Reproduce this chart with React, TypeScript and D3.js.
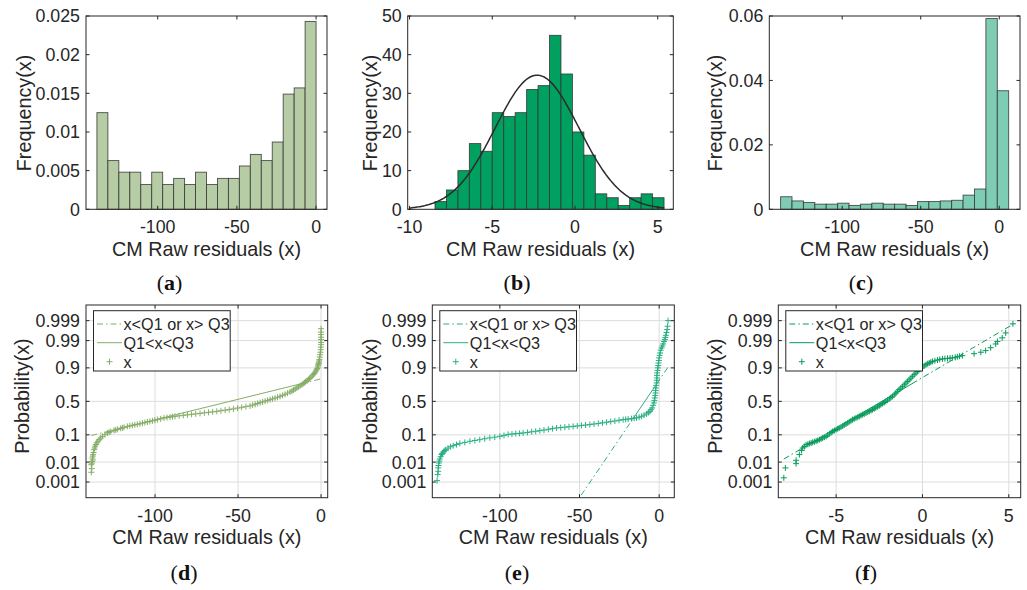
import React from "react";
import * as d3 from "d3";

// ---------------- data ----------------
// (a) histogram, pdf normalisation
const histA_values = [0.0125, 0.0063, 0.0048, 0.0048, 0.0032, 0.0048, 0.0032, 0.004, 0.0032, 0.0048, 0.0032, 0.004, 0.004, 0.0056, 0.0071, 0.0063, 0.0087, 0.0149, 0.0157, 0.0243];
const histA_binStart = -138.4;
const histA_binWidth = 6.92;
const histA_xDomain = [-145.3, 6.9];
const histA_yMax = 0.025;
const histA_xTicks = [-100, -50, 0];
const histA_yTicks = [0, 0.005, 0.01, 0.015, 0.02, 0.025];

// (b) histogram, counts + normal fit
const histB_values = [2, 5, 10, 17, 15, 25, 24, 25, 31, 32, 45, 35, 20, 14, 4, 3, 1, 3, 4, 3];
const histB_binStart = -8.46;
const histB_binWidth = 0.692;
const histB_xDomain = [-10.11, 5.94];
const histB_yMax = 50;
const histB_xTicks = [-10, -5, 0, 5];
const histB_yTicks = [0, 10, 20, 30, 40, 50];
const fitB_mu = -2.29;
const fitB_sigma = 2.53;
const fitB_range = [-10, 5.4];

// (c) histogram, pdf normalisation
const histC_values = [0.0039, 0.0026, 0.0021, 0.0016, 0.0016, 0.0019, 0.0012, 0.0016, 0.0019, 0.0016, 0.0016, 0.0012, 0.0024, 0.0024, 0.0026, 0.0028, 0.0044, 0.0063, 0.0592, 0.0368];
const histC_binStart = -139.2;
const histC_binWidth = 7.26;
const histC_xDomain = [-146.4, 13.2];
const histC_yMax = 0.06;
const histC_xTicks = [-100, -50, 0];
const histC_yTicks = [0, 0.02, 0.04, 0.06];

// probability plots: [residual, probability]
const probD_points: [number, number][] = [
  [-138.4, 0.0033], [-138.4, 0.0076], [-138.1, 0.005], [-138.1, 0.009], [-137.8, 0.0107], [-137.8, 0.015], [-137.5, 0.0125], [-137.5, 0.018],
  [-137.3, 0.0206], [-137.0, 0.025], [-136.7, 0.032], [-136.4, 0.037], [-136.1, 0.043], [-135.6, 0.049], [-135.1, 0.056], [-134.4, 0.063],
  [-133.7, 0.071], [-132.7, 0.08], [-131.7, 0.09], [-130.2, 0.101], [-128.7, 0.113], [-127.7, 0.118], [-126.7, 0.123], [-124.7, 0.133],
  [-123.7, 0.137], [-122.7, 0.142], [-120.7, 0.151], [-119.7, 0.155], [-118.7, 0.16], [-116.7, 0.169], [-115.2, 0.174], [-113.7, 0.179],
  [-112.2, 0.184], [-110.7, 0.189], [-109.1, 0.195], [-107.6, 0.202], [-106.1, 0.208], [-104.6, 0.215], [-103.1, 0.221], [-101.6, 0.228],
  [-100.1, 0.235], [-98.6, 0.242], [-96.6, 0.251], [-94.6, 0.261], [-92.8, 0.267], [-91.0, 0.272], [-89.5, 0.278], [-88.0, 0.283],
  [-85.5, 0.29], [-83.0, 0.296], [-80.5, 0.303], [-78.0, 0.31], [-75.5, 0.316], [-72.9, 0.323], [-70.3, 0.33], [-67.8, 0.337],
  [-65.3, 0.344], [-62.8, 0.351], [-60.3, 0.36], [-57.8, 0.368], [-55.3, 0.377], [-52.8, 0.386], [-50.3, 0.398], [-47.8, 0.41],
  [-45.3, 0.42], [-42.8, 0.43], [-41.2, 0.443], [-39.7, 0.455], [-38.2, 0.468], [-36.7, 0.48], [-35.2, 0.49], [-33.7, 0.503],
  [-32.2, 0.515], [-30.7, 0.526], [-29.2, 0.538], [-27.7, 0.55], [-26.2, 0.563], [-24.7, 0.576], [-23.2, 0.591], [-21.7, 0.607],
  [-20.2, 0.623], [-18.7, 0.64], [-17.6, 0.654], [-16.6, 0.668], [-15.6, 0.682], [-14.6, 0.696], [-13.6, 0.71], [-12.6, 0.725],
  [-11.6, 0.738], [-10.7, 0.752], [-9.9, 0.763], [-9.2, 0.775], [-8.4, 0.786], [-7.7, 0.797], [-6.9, 0.81], [-6.1, 0.823],
  [-5.3, 0.835], [-4.6, 0.847], [-4.1, 0.858], [-3.6, 0.868], [-3.1, 0.878], [-2.6, 0.887], [-2.3, 0.896], [-2.0, 0.905],
  [-1.8, 0.913], [-1.6, 0.92], [-1.45, 0.927], [-1.3, 0.933], [-1.15, 0.939], [-1.0, 0.945], [-0.8, 0.955], [-0.6, 0.963],
  [-0.4, 0.97], [-0.2, 0.976], [-0.1, 0.981], [0, 0.985], [0, 0.988], [0, 0.991], [0, 0.993], [0, 0.9947], [0, 0.996], [0, 0.9973],
];
const probE_points: [number, number][] = [
  [-139.4, 0.0012], [-139.0, 0.0025], [-138.7, 0.0037], [-138.7, 0.0054], [-138.5, 0.007], [-138.3, 0.0091], [-138.0, 0.011], [-137.7, 0.0136],
  [-137.2, 0.017], [-136.6, 0.0207], [-136.2, 0.0225], [-135.9, 0.024], [-135.2, 0.0274], [-134.5, 0.03], [-133.9, 0.032], [-132.5, 0.0367],
  [-131.0, 0.041], [-129.3, 0.0446], [-127.2, 0.049], [-125.1, 0.0537], [-122.0, 0.058], [-118.8, 0.063], [-115.7, 0.067], [-112.6, 0.071],
  [-109.5, 0.076], [-106.3, 0.081], [-103.2, 0.085], [-100.0, 0.09], [-97.4, 0.096], [-94.8, 0.103], [-92.4, 0.105], [-90.0, 0.108],
  [-87.7, 0.11], [-85.4, 0.113], [-82.7, 0.117], [-80.0, 0.122], [-77.5, 0.126], [-74.9, 0.131], [-72.3, 0.136], [-69.6, 0.142],
  [-67.0, 0.148], [-64.4, 0.154], [-61.8, 0.158], [-59.2, 0.161], [-56.6, 0.165], [-54.0, 0.169], [-51.4, 0.173], [-48.8, 0.178],
  [-46.2, 0.182], [-43.5, 0.187], [-40.9, 0.193], [-38.2, 0.199], [-35.6, 0.205], [-33.0, 0.212], [-30.4, 0.219], [-27.8, 0.226],
  [-25.2, 0.234], [-22.6, 0.242], [-21.0, 0.245], [-19.5, 0.248], [-17.3, 0.254], [-15.7, 0.259], [-14.2, 0.264], [-12.6, 0.272],
  [-11.0, 0.283], [-9.5, 0.298], [-7.9, 0.315], [-6.8, 0.333], [-5.8, 0.351], [-5.1, 0.375], [-4.4, 0.4], [-3.8, 0.44],
  [-3.3, 0.476], [-3.0, 0.514], [-2.7, 0.552], [-2.5, 0.59], [-2.3, 0.626], [-2.2, 0.66], [-2.1, 0.696], [-1.85, 0.73],
  [-1.6, 0.76], [-1.5, 0.79], [-1.4, 0.815], [-1.35, 0.84], [-1.3, 0.862], [-1.05, 0.882], [-0.8, 0.9], [-0.6, 0.915],
  [-0.4, 0.929], [-0.2, 0.941], [0, 0.952], [0.3, 0.961], [0.6, 0.968], [1.0, 0.975], [1.5, 0.9796], [2.0, 0.983],
  [2.5, 0.986], [3.0, 0.989], [3.6, 0.991], [3.9, 0.9928], [4.2, 0.9943], [4.6, 0.9958], [5.0, 0.997], [5.3, 0.998], [5.6, 0.999],
];
const probF_points: [number, number][] = [
  [-8.03, 0.0017], [-7.94, 0.0054], [-7.32, 0.0085], [-7.32, 0.012], [-7.13, 0.0207], [-7.0, 0.03], [-6.94, 0.037], [-6.84, 0.042],
  [-6.74, 0.048], [-6.64, 0.05], [-6.55, 0.053], [-6.45, 0.055], [-6.36, 0.058], [-6.26, 0.061], [-6.16, 0.064], [-6.07, 0.067],
  [-5.97, 0.071], [-5.87, 0.075], [-5.78, 0.08], [-5.68, 0.085], [-5.58, 0.09], [-5.49, 0.098], [-5.39, 0.107], [-5.29, 0.116],
  [-5.2, 0.125], [-5.1, 0.132], [-5.0, 0.14], [-4.91, 0.147], [-4.82, 0.154], [-4.72, 0.163], [-4.62, 0.173], [-4.53, 0.183],
  [-4.43, 0.193], [-4.33, 0.205], [-4.24, 0.217], [-4.14, 0.229], [-4.05, 0.242], [-3.95, 0.252], [-3.85, 0.262], [-3.75, 0.272],
  [-3.66, 0.283], [-3.56, 0.294], [-3.46, 0.305], [-3.37, 0.316], [-3.27, 0.328], [-3.17, 0.34], [-3.08, 0.351], [-2.98, 0.363],
  [-2.89, 0.375], [-2.79, 0.39], [-2.7, 0.404], [-2.6, 0.419], [-2.5, 0.434], [-2.41, 0.45], [-2.31, 0.467], [-2.21, 0.483],
  [-2.12, 0.5], [-2.02, 0.519], [-1.92, 0.538], [-1.83, 0.557], [-1.73, 0.576], [-1.63, 0.6], [-1.54, 0.625], [-1.44, 0.65],
  [-1.35, 0.674], [-1.25, 0.695], [-1.15, 0.716], [-1.05, 0.737], [-0.96, 0.758], [-0.86, 0.777], [-0.77, 0.795], [-0.67, 0.813],
  [-0.58, 0.831], [-0.48, 0.846], [-0.38, 0.86], [-0.29, 0.874], [-0.19, 0.887], [-0.1, 0.896], [0.0, 0.905], [0.1, 0.913],
  [0.2, 0.92], [0.3, 0.925], [0.39, 0.929], [0.48, 0.933], [0.58, 0.937], [0.72, 0.94], [0.87, 0.943], [1.0, 0.946],
  [1.16, 0.948], [1.3, 0.949], [1.45, 0.95], [1.6, 0.951], [1.73, 0.952], [1.9, 0.954], [2.02, 0.956], [2.15, 0.958],
  [2.31, 0.96], [2.99, 0.966], [3.38, 0.97], [3.66, 0.974], [3.95, 0.98], [4.24, 0.986], [4.34, 0.989], [4.62, 0.9925],
  [4.82, 0.9956], [5.24, 0.9985],
];
// reference line quartiles [Q1, Q3]
const probD_quartiles = [-98, -12];
const probE_quartiles = [-16.5, -1.5];
const probF_quartiles = [-4.08, -0.61];
const probD_xDomain = [-141.6, 4.0];
const probE_xDomain = [-142.4, 9.5];
const probF_xDomain = [-8.35, 5.69];
const probD_xTicks = [-100, -50, 0];
const probE_xTicks = [-100, -50, 0];
const probF_xTicks = [-5, 0, 5];
const probTicks = [0.001, 0.01, 0.1, 0.5, 0.9, 0.99, 0.999];
const probZDomain = [-3.69, 3.69];

const legendLabels = ["x<Q1 or x> Q3", "Q1<x<Q3", "x"];
const xAxisLabel = "CM Raw residuals (x)";

// ---------------- helpers ----------------
const FONT = "'Liberation Sans', Arial, Helvetica, sans-serif";
const SERIF = "'Liberation Serif', 'Times New Roman', serif";
const AX = "#262626";
const TICK_FS = 17.8;
const LABEL_FS = 19.8;

function invNorm(p: number): number {
  const a = [-39.69683028665376, 220.9460984245205, -275.9285104469687, 138.357751867269, -30.66479806614716, 2.506628277459239];
  const b = [-54.47609879822406, 161.5858368580409, -155.6989798598866, 66.80131188771972, -13.28068155288572];
  const c = [-0.007784894002430293, -0.3223964580411365, -2.400758277161838, -2.549732539343734, 4.374664141464968, 2.938163982698783];
  const d = [0.007784695709041462, 0.3224671290700398, 2.445134137142996, 3.754408661907416];
  const pl = 0.02425;
  if (p < pl) {
    const q = Math.sqrt(-2 * Math.log(p));
    return (((((c[0] * q + c[1]) * q + c[2]) * q + c[3]) * q + c[4]) * q + c[5]) / ((((d[0] * q + d[1]) * q + d[2]) * q + d[3]) * q + 1);
  }
  if (p <= 1 - pl) {
    const q = p - 0.5;
    const r = q * q;
    return ((((((a[0] * r + a[1]) * r + a[2]) * r + a[3]) * r + a[4]) * r + a[5]) * q) / (((((b[0] * r + b[1]) * r + b[2]) * r + b[3]) * r + b[4]) * r + 1);
  }
  const q = Math.sqrt(-2 * Math.log(1 - p));
  return -(((((c[0] * q + c[1]) * q + c[2]) * q + c[3]) * q + c[4]) * q + c[5]) / ((((d[0] * q + d[1]) * q + d[2]) * q + d[3]) * q + 1);
}

type Frame = { x0: number; x1: number; y0: number; y1: number };
const TICK = 3.5;

function AxisDecor({ f, xs, ys, xTicks, yTicks, yFmt, xlabel, ylabel, ylabelX, ylabelY }: any) {
  return (
    <g>
      {xTicks.map((t: number) => (
        <g key={"xt" + t}>
          <line x1={xs(t)} x2={xs(t)} y1={f.y1} y2={f.y1 - TICK} stroke={AX} strokeWidth={1} />
          <line x1={xs(t)} x2={xs(t)} y1={f.y0} y2={f.y0 + TICK} stroke={AX} strokeWidth={1} />
          <text x={xs(t)} y={f.y1 + 24} textAnchor="middle" fontSize={TICK_FS} fontFamily={FONT} fill={AX}>{String(t)}</text>
        </g>
      ))}
      {yTicks.map((t: number) => (
        <g key={"yt" + t}>
          <line x1={f.x0} x2={f.x0 + TICK} y1={ys(t)} y2={ys(t)} stroke={AX} strokeWidth={1} />
          <line x1={f.x1} x2={f.x1 - TICK} y1={ys(t)} y2={ys(t)} stroke={AX} strokeWidth={1} />
          <text x={f.x0 - 6} y={ys(t)} dy="0.36em" textAnchor="end" fontSize={TICK_FS} fontFamily={FONT} fill={AX}>{yFmt(t)}</text>
        </g>
      ))}
      <rect x={f.x0} y={f.y0} width={f.x1 - f.x0} height={f.y1 - f.y0} fill="none" stroke={AX} strokeWidth={1} />
      <text x={(f.x0 + f.x1) / 2} y={f.y1 + 46.5} textAnchor="middle" fontSize={LABEL_FS} fontFamily={FONT} fill={AX}>{xlabel}</text>
      <text transform={`translate(${ylabelX},${ylabelY}) rotate(-90)`} textAnchor="middle" fontSize={LABEL_FS} fontFamily={FONT} fill={AX}>{ylabel}</text>
    </g>
  );
}

function HistPanel({ f, values, binStart, binWidth, xDomain, yMax, xTicks, yTicks, fill, ylabelX, fit }: any) {
  const xs = d3.scaleLinear().domain(xDomain).range([f.x0, f.x1]);
  const ys = d3.scaleLinear().domain([0, yMax]).range([f.y1, f.y0]);
  let fitPath: string | null = null;
  if (fit) {
    const total = d3.sum(values as number[]);
    const xsSample = d3.range(0, 201).map((i) => fit.range[0] + ((fit.range[1] - fit.range[0]) * i) / 200);
    const pdf = (x: number) => (total * binWidth * Math.exp(-((x - fit.mu) ** 2) / (2 * fit.sigma * fit.sigma))) / (fit.sigma * Math.sqrt(2 * Math.PI));
    fitPath = d3.line<number>().x((x) => xs(x)).y((x) => ys(pdf(x)))(xsSample);
  }
  return (
    <g>
      {values.map((v: number, i: number) => {
        const a = binStart + i * binWidth;
        const b = a + binWidth;
        return (
          <rect key={i} x={xs(a)} y={ys(v)} width={xs(b) - xs(a)} height={ys(0) - ys(v)} fill={fill} stroke="#333" strokeOpacity={0.85} strokeWidth={0.9} />
        );
      })}
      {fitPath && <path d={fitPath} fill="none" stroke="#2b2b2b" strokeWidth={1.5} />}
      <AxisDecor f={f} xs={xs} ys={ys} xTicks={xTicks} yTicks={yTicks} yFmt={(t: number) => String(t)} xlabel={xAxisLabel} ylabel="Frequency(x)" ylabelX={ylabelX} ylabelY={113} />
    </g>
  );
}

function plus(x: number, y: number, s = 3) {
  return `M${x - s},${y}H${x + s}M${x},${y - s}V${y + s}`;
}

function ProbPanel({ id, f, points, quartiles, xDomain, xTicks, color, ylabelX }: any) {
  const xs = d3.scaleLinear().domain(xDomain).range([f.x0, f.x1]);
  const zs = d3.scaleLinear().domain(probZDomain).range([f.y1, f.y0]);
  const ys = (p: number) => zs(invNorm(p));
  const pts = points as [number, number][];
  const xmin = d3.min(pts, (d) => d[0]) as number;
  const xmax = d3.max(pts, (d) => d[0]) as number;
  const [q1, q3] = quartiles;
  const z1 = invNorm(0.25);
  const z3 = invNorm(0.75);
  const lineZ = (x: number) => z1 + ((x - q1) * (z3 - z1)) / (q3 - q1);
  const seg = (a: number, b: number) => `M${xs(a)},${zs(lineZ(a))}L${xs(b)},${zs(lineZ(b))}`;
  const markers = pts.map((d) => plus(xs(d[0]), ys(d[1]))).join("");
  const lg = { x: f.x0 + 7.5, y: f.y0 + 5.7, w: 136.7, h: 60.3 };
  const rows = [lg.y + 13.3, lg.y + 32, lg.y + 51];
  return (
    <g>
      <defs>
        <clipPath id={"clip" + id}>
          <rect x={f.x0} y={f.y0} width={f.x1 - f.x0} height={f.y1 - f.y0} />
        </clipPath>
      </defs>
      {xTicks.map((t: number) => (
        <line key={"gx" + t} x1={xs(t)} x2={xs(t)} y1={f.y0} y2={f.y1} stroke="#dcdcdc" strokeWidth={1} />
      ))}
      {probTicks.map((t: number) => (
        <line key={"gy" + t} x1={f.x0} x2={f.x1} y1={ys(t)} y2={ys(t)} stroke="#dcdcdc" strokeWidth={1} />
      ))}
      <g clipPath={`url(#clip${id})`}>
        <path d={seg(xmin, q1) + seg(q3, xmax)} fill="none" stroke={color} strokeWidth={1} strokeDasharray="6 3 1.5 3" />
        <path d={seg(q1, q3)} fill="none" stroke={color} strokeWidth={1} />
        <path d={markers} fill="none" stroke={color} strokeWidth={1} />
      </g>
      <AxisDecor f={f} xs={xs} ys={ys} xTicks={xTicks} yTicks={probTicks} yFmt={(t: number) => String(t)} xlabel={xAxisLabel} ylabel="Probability(x)" ylabelX={ylabelX} ylabelY={396} />
      <rect x={lg.x} y={lg.y} width={lg.w} height={lg.h} fill="#fff" stroke={AX} strokeWidth={1} />
      <line x1={lg.x + 3.5} x2={lg.x + 28.5} y1={rows[0]} y2={rows[0]} stroke={color} strokeWidth={1} strokeDasharray="6 3 1.5 3" />
      <line x1={lg.x + 3.5} x2={lg.x + 28.5} y1={rows[1]} y2={rows[1]} stroke={color} strokeWidth={1} />
      <path d={plus(lg.x + 16, rows[2])} stroke={color} strokeWidth={1} fill="none" />
      {legendLabels.map((t, i) => (
        <text key={t} x={lg.x + 30} y={rows[i]} dy="0.36em" fontSize={16.2} fontFamily={FONT} fill={AX}>{t}</text>
      ))}
    </g>
  );
}

function PanelLetter({ x, y, letter }: { x: number; y: number; letter: string }) {
  return (
    <text x={x} y={y} textAnchor="middle" fontSize={22} fontFamily={SERIF} fill="#111">
      <tspan>(</tspan>
      <tspan fontWeight="bold">{letter}</tspan>
      <tspan>)</tspan>
    </text>
  );
}

export default function App() {
  const fa: Frame = { x0: 86, x1: 327, y0: 16, y1: 209.3 };
  const fb: Frame = { x0: 407.7, x1: 673.3, y0: 16, y1: 209.3 };
  const fc: Frame = { x0: 769.3, x1: 1020, y0: 16, y1: 209.3 };
  const fd: Frame = { x0: 86, x1: 327.7, y0: 305, y1: 497.7 };
  const fe: Frame = { x0: 432.3, x1: 674.3, y0: 305, y1: 497.7 };
  const ff: Frame = { x0: 778.3, x1: 1020.7, y0: 305, y1: 497.7 };
  return (
    <div style={{ position: "absolute", left: 0, top: 0 }}>
      <svg width={1027} height={590} style={{ display: "block", background: "#fff" }}>
        <HistPanel f={fa} values={histA_values} binStart={histA_binStart} binWidth={histA_binWidth} xDomain={histA_xDomain} yMax={histA_yMax} xTicks={histA_xTicks} yTicks={histA_yTicks} fill="#b6cca5" ylabelX={30.7} />
        <HistPanel f={fb} values={histB_values} binStart={histB_binStart} binWidth={histB_binWidth} xDomain={histB_xDomain} yMax={histB_yMax} xTicks={histB_xTicks} yTicks={histB_yTicks} fill="#00a060" ylabelX={376.7} fit={{ mu: fitB_mu, sigma: fitB_sigma, range: fitB_range }} />
        <HistPanel f={fc} values={histC_values} binStart={histC_binStart} binWidth={histC_binWidth} xDomain={histC_xDomain} yMax={histC_yMax} xTicks={histC_xTicks} yTicks={histC_yTicks} fill="#7fccb5" ylabelX={722.3} />
        <ProbPanel id="d" f={fd} points={probD_points} quartiles={probD_quartiles} xDomain={probD_xDomain} xTicks={probD_xTicks} color="#84ad66" ylabelX={29} />
        <ProbPanel id="e" f={fe} points={probE_points} quartiles={probE_quartiles} xDomain={probE_xDomain} xTicks={probE_xTicks} color="#2aaf85" ylabelX={376.7} />
        <ProbPanel id="f" f={ff} points={probF_points} quartiles={probF_quartiles} xDomain={probF_xDomain} xTicks={probF_xTicks} color="#079b5c" ylabelX={722.3} />
        <PanelLetter x={169.5} y={290} letter="a" />
        <PanelLetter x={517} y={290} letter="b" />
        <PanelLetter x={861} y={290} letter="c" />
        <PanelLetter x={184} y={580} letter="d" />
        <PanelLetter x={517} y={580} letter="e" />
        <PanelLetter x={866} y={580} letter="f" />
      </svg>
    </div>
  );
}
